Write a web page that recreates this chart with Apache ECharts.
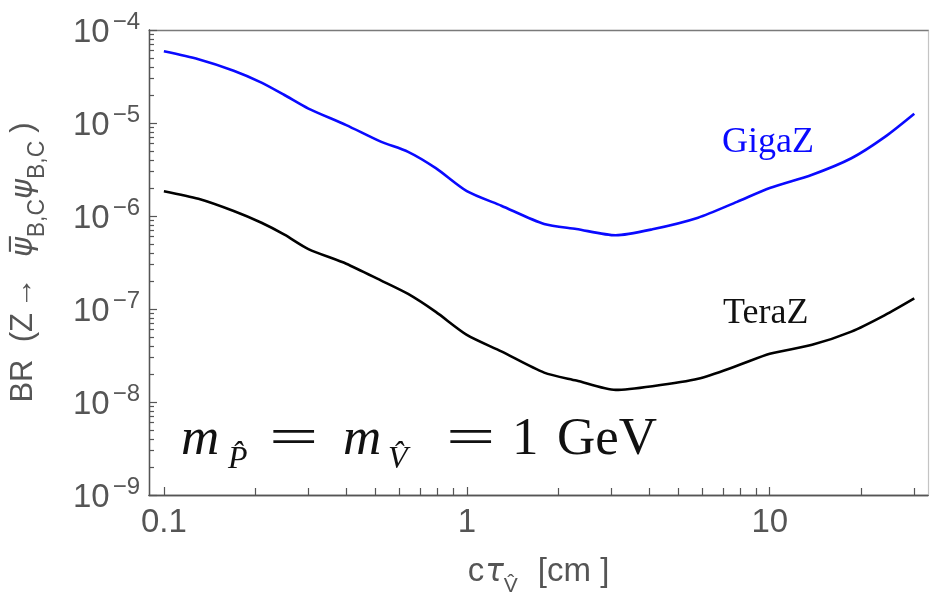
<!DOCTYPE html>
<html><head><meta charset="utf-8">
<script src="https://cdn.jsdelivr.net/npm/echarts@6/dist/echarts.min.js"></script>
<style>html,body{margin:0;padding:0;background:#fff}#c{width:930px;height:602px}</style>
</head><body><div id="c"></div>
<script>
// c*tau [cm]
const ctTau = [0.1, 0.13, 0.17, 0.21, 0.25, 0.3, 0.4, 0.52, 0.64, 0.79, 1, 1.3, 1.8, 2.3, 3.1, 4.1, 5.8, 7.8, 10, 13.8, 18.6, 24, 30];
// BR limits
const gigaZ = [5.9e-5, 4.85e-5, 3.65e-5, 2.72e-5, 2.0e-5, 1.43e-5, 9.5e-6, 6.3e-6, 4.9e-6, 3.27e-6, 1.85e-6, 1.29e-6, 8.2e-7, 7.25e-7, 6.2e-7, 7.2e-7, 9.6e-7, 1.42e-6, 2.0e-6, 2.78e-6, 4.18e-6, 7.1e-6, 1.26e-5];
const teraZ = [1.85e-6, 1.53e-6, 1.13e-6, 8.45e-7, 6.3e-7, 4.41e-7, 3.07e-7, 2.03e-7, 1.45e-7, 9.3e-8, 5.27e-8, 3.5e-8, 2.07e-8, 1.7e-8, 1.35e-8, 1.48e-8, 1.78e-8, 2.45e-8, 3.3e-8, 4.12e-8, 5.71e-8, 8.6e-8, 1.3e-7];
// ticks
const xMajorTicks = [0.1, 1, 10];
const xMinorTicks = [0.2, 0.3, 0.4, 0.5, 0.6, 0.7, 0.8, 0.9, 2, 3, 4, 5, 6, 7, 8, 9, 20, 30];
const yMajorTicks = [1e-9, 1e-8, 1e-7, 1e-6, 1e-5, 1e-4];
const yMinorMult = [2, 3, 4, 5, 6, 7, 8, 9];
const yMinorTicks = [];
[1e-9, 1e-8, 1e-7, 1e-6, 1e-5].forEach(d => yMinorMult.forEach(m => yMinorTicks.push(m * d)));
const xRange = [0.0893, 33.3];
const yRange = [1e-9, 1e-4];

const SANS = '"Liberation Sans", Arial, sans-serif';
const GREEK = '"DejaVu Sans", sans-serif';
const SERIF = '"Liberation Serif", "DejaVu Serif", serif';
const GRAY = '#555';

const chart = echarts.init(document.getElementById('c'), null, {renderer: 'canvas'});

function yFmt(v) {
  const e = Math.round(Math.log10(v));
  return '{b|10}{s|\u2212' + (-e) + '}';
}
function xFmt(v) { return String(+(+v).toPrecision(3)); }

const option = {
  animation: false,
  backgroundColor: '#fff',
  grid: {left: 146, right: 2, top: 30, bottom: 102},
  xAxis: [
    {
      type: 'log', min: xRange[0], max: xRange[1], position: 'bottom',
      name: '{a|c}{g|\u03c4}{s|V\u0302}{c|[cm ]}', nameLocation: 'middle', nameGap: 60,
      nameTextStyle: {rich: {
        a: {fontFamily: SANS, fontSize: 33, color: GRAY, padding: [0, 0, 9, 0], verticalAlign: 'bottom'},
        g: {fontFamily: GREEK, fontSize: 31, color: GRAY, fontStyle: 'italic', padding: [0, 0, 9, 1], verticalAlign: 'bottom'},
        s: {fontFamily: SANS, fontSize: 21, color: GRAY, verticalAlign: 'bottom'},
        c: {fontFamily: SANS, fontSize: 33, color: GRAY, padding: [0, 0, 9, 20], verticalAlign: 'bottom'}
      }},
      axisLine: {show: true, onZero: false, lineStyle: {color: GRAY, width: 1.3}},
      axisTick: {show: true, inside: true, length: 8, customValues: xMajorTicks, lineStyle: {color: GRAY, width: 1.2}},
      axisLabel: {customValues: xMajorTicks, formatter: xFmt, fontFamily: SANS, fontSize: 33, color: GRAY, margin: 11},
      splitLine: {show: false}, minorTick: {show: false}
    },
    {
      type: 'log', min: xRange[0], max: xRange[1], position: 'bottom', offset: 0,
      axisLine: {show: true, onZero: false, lineStyle: {color: GRAY, width: 1.3}},
      axisTick: {show: true, inside: true, length: 7, customValues: xMinorTicks, lineStyle: {color: GRAY, width: 1.2}},
      axisLabel: {show: false}, splitLine: {show: false}
    },
    {
      type: 'log', min: xRange[0], max: xRange[1], position: 'top',
      axisLine: {show: true, onZero: false, lineStyle: {color: '#7a7a7a', width: 1.3}},
      axisTick: {show: false}, axisLabel: {show: false}, splitLine: {show: false}
    }
  ],
  yAxis: [
    {
      type: 'log', min: yRange[0], max: yRange[1], position: 'left',
      name: '{t|BR  (Z}{r|\u2192}{p|\u03c8\u0305}{s|B,C}{p|\u03c8}{s|B,C}{q|)}',
      nameLocation: 'middle', nameGap: 100, nameRotate: 90,
      nameTextStyle: {rich: {
        t: {fontFamily: SANS, fontSize: 31, color: GRAY, padding: [0, 0, 10, 0], verticalAlign: 'bottom'},
        r: {fontFamily: SANS, fontSize: 31, color: GRAY, padding: [0, 20, 10, 5], verticalAlign: 'bottom'},
        p: {fontFamily: GREEK, fontSize: 30, color: GRAY, fontStyle: 'italic', padding: [0, 0, 10, 0], verticalAlign: 'bottom'},
        s: {fontFamily: SANS, fontSize: 23, color: GRAY, verticalAlign: 'bottom'},
        q: {fontFamily: SANS, fontSize: 31, color: GRAY, padding: [0, 0, 10, 8], verticalAlign: 'bottom'}
      }},
      axisLine: {show: true, onZero: false, lineStyle: {color: GRAY, width: 1.3}},
      axisTick: {show: true, inside: true, length: 8, customValues: yMajorTicks, lineStyle: {color: GRAY, width: 1.2}},
      axisLabel: {customValues: yMajorTicks, formatter: yFmt, margin: 9, rich: {
        b: {fontFamily: SANS, fontSize: 33, color: GRAY, verticalAlign: 'bottom'},
        s: {fontFamily: SANS, fontSize: 24, color: GRAY, verticalAlign: 'bottom', padding: [0, 0, 15, 3]}
      }},
      splitLine: {show: false}, minorTick: {show: false}
    },
    {
      type: 'log', min: yRange[0], max: yRange[1], position: 'left', offset: 0,
      axisLine: {show: true, onZero: false, lineStyle: {color: GRAY, width: 1.3}},
      axisTick: {show: true, inside: true, length: 5, customValues: yMinorTicks, lineStyle: {color: GRAY, width: 1.2}},
      axisLabel: {show: false}, splitLine: {show: false}
    },
    {
      type: 'log', min: yRange[0], max: yRange[1], position: 'right',
      axisLine: {show: true, onZero: false, lineStyle: {color: '#c4c4c4', width: 1.2}},
      axisTick: {show: false}, axisLabel: {show: false}, splitLine: {show: false}
    }
  ],
  series: [
    {name: 'GigaZ', type: 'line', xAxisIndex: 0, yAxisIndex: 0, showSymbol: false, smooth: 0.25,
     lineStyle: {color: '#0a0aff', width: 2.6}, data: ctTau.map((x, i) => [x, gigaZ[i]])},
    {name: 'TeraZ', type: 'line', xAxisIndex: 0, yAxisIndex: 0, showSymbol: false, smooth: 0.25,
     lineStyle: {color: '#000', width: 2.6}, data: ctTau.map((x, i) => [x, teraZ[i]])}
  ],
  graphic: [
    {type: 'text', style: {x: 722, y: 143, text: 'GigaZ', fill: '#0a0aff', font: '36px ' + SERIF, verticalAlign: 'middle'}},
    {type: 'text', style: {x: 723, y: 314, text: 'TeraZ', fill: '#111', font: '36px ' + SERIF, verticalAlign: 'middle'}},
    {type: 'text', style: {x: 181, y: 440, text: 'm', fill: '#111', font: 'italic 53px ' + SERIF, verticalAlign: 'middle'}},
    {type: 'text', style: {x: 228, y: 460, text: 'P\u0302', fill: '#111', font: 'italic 32px ' + SERIF, verticalAlign: 'middle'}},
    {type: 'text', x: 269, y: 440, scaleX: 1.65, style: {x: 0, y: 0, text: '=', fill: '#111', font: '53px ' + SERIF, verticalAlign: 'middle'}},
    {type: 'text', style: {x: 343, y: 440, text: 'm', fill: '#111', font: 'italic 53px ' + SERIF, verticalAlign: 'middle'}},
    {type: 'text', style: {x: 388, y: 460, text: 'V\u0302', fill: '#111', font: 'italic 32px ' + SERIF, verticalAlign: 'middle'}},
    {type: 'text', x: 446, y: 440, scaleX: 1.65, style: {x: 0, y: 0, text: '=', fill: '#111', font: '53px ' + SERIF, verticalAlign: 'middle'}},
    {type: 'text', style: {x: 512, y: 440, text: '1', fill: '#111', font: '53px ' + SERIF, verticalAlign: 'middle'}},
    {type: 'text', style: {x: 557, y: 440, text: 'GeV', fill: '#111', font: '53px ' + SERIF, verticalAlign: 'middle'}}
  ]
};
chart.setOption(option);
</script></body></html>
